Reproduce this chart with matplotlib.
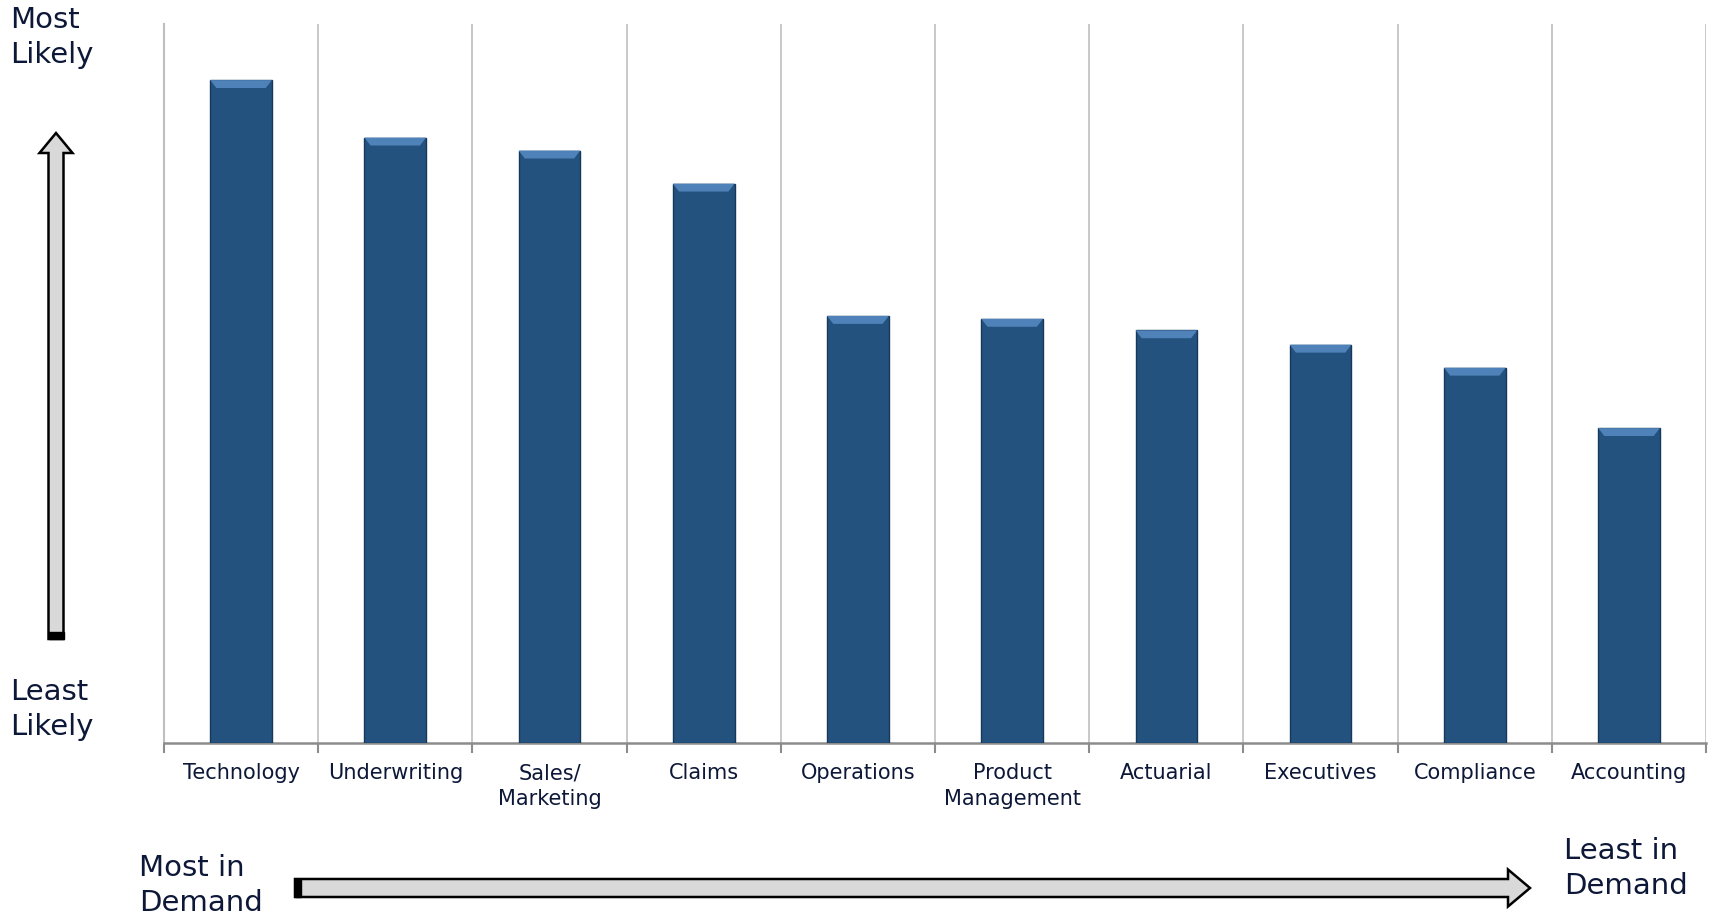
import matplotlib.pyplot as plt
from matplotlib.patches import FancyArrow, Rectangle, Polygon

# categories in order of demand (left = most in demand)
categories = ["Technology", "Underwriting", "Sales/\nMarketing", "Claims", "Operations",
              "Product\nManagement", "Actuarial", "Executives", "Compliance", "Accounting"]
# likelihood score (axis runs 0..5)
scores = [4.61, 4.21, 4.12, 3.89, 2.97, 2.95, 2.87, 2.77, 2.61, 2.19]

TEXT = "#0d1838"
BAR = "#24527f"
GRID = "#bfbfbf"

fig = plt.figure(figsize=(17.13, 9.17), dpi=100)
ax = fig.add_axes([0.0957, 0.1897, 0.9003, 0.7841])

x = list(range(len(categories)))
bars = ax.bar(x, scores, width=0.4, color=BAR, edgecolor="#17385a", linewidth=1.0, zorder=3)

# soft bevel along the top of each bar
for b in bars:
    bx, bw, top = b.get_x(), b.get_width(), b.get_height()
    ax.add_patch(Polygon([(bx, top), (bx + bw, top), (bx + bw - 0.04, top - 0.055),
                          (bx + 0.04, top - 0.055)], closed=True,
                         facecolor="#4f82b8", edgecolor="none", zorder=4))

ax.set_xlim(-0.5, len(categories) - 0.5)
ax.set_ylim(0, 5)
ax.set_yticks([])

# vertical separators between categories
bounds = [i - 0.5 for i in range(len(categories) + 1)]
for bnd in bounds[1:]:
    ax.axvline(bnd, color=GRID, linewidth=1.2, zorder=1)

ax.set_xticks(x)
ax.set_xticklabels(categories, fontsize=15, color=TEXT, linespacing=1.38)
ax.tick_params(axis="x", length=0, pad=14.5)
ax.set_xticks(bounds, minor=True)
ax.tick_params(axis="x", which="minor", length=7, width=1.5, color="#8c8c8c")

for side in ["top", "right"]:
    ax.spines[side].set_visible(False)
ax.spines["left"].set_color(GRID)
ax.spines["left"].set_linewidth(1.5)
ax.spines["bottom"].set_color("#8c8c8c")
ax.spines["bottom"].set_linewidth(1.8)

# overlay in pixel coordinates for the direction arrows and captions
ov = fig.add_axes([0, 0, 1, 1], zorder=-1)
ov.set_xlim(0, 1713)
ov.set_ylim(917, 0)
ov.axis("off")

ov.add_patch(FancyArrow(56, 639, 0, -506, width=15, head_width=33, head_length=20,
                        length_includes_head=True, facecolor="#d9d9d9",
                        edgecolor="black", linewidth=1.8))
ov.add_patch(Rectangle((48.5, 632), 15, 7, facecolor="black", edgecolor="black"))
ov.add_patch(FancyArrow(295, 888, 1235, 0, width=18, head_width=37, head_length=22,
                        length_includes_head=True, facecolor="#d9d9d9",
                        edgecolor="black", linewidth=1.8))
ov.add_patch(Rectangle((295, 879), 6, 18, facecolor="black", edgecolor="black"))

big = dict(fontsize=21, color=TEXT, linespacing=1.32)
ov.text(10, 6, "Most\nLikely", ha="left", va="top", **big)
ov.text(10, 678, "Least\nLikely", ha="left", va="top", **big)
ov.text(139, 854, "Most in\nDemand", ha="left", va="top", **big)
ov.text(1564, 837, "Least in\nDemand", ha="left", va="top", **big)

fig.savefig("out.png", dpi=100)
